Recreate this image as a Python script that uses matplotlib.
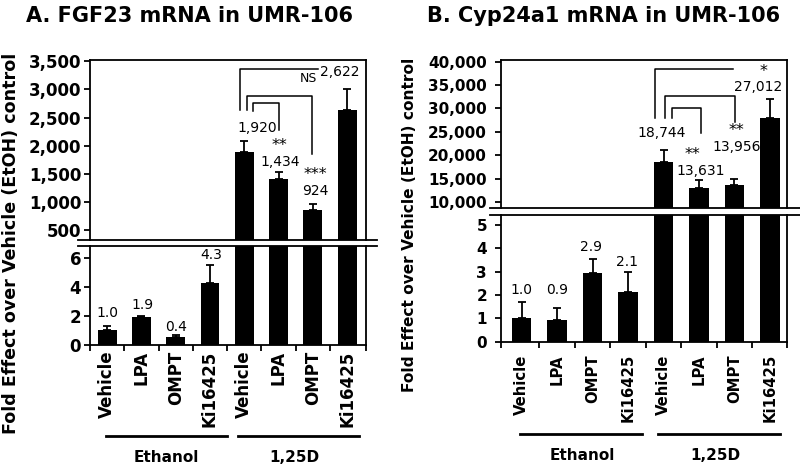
import matplotlib
matplotlib.use("Agg")
import matplotlib.pyplot as plt
from matplotlib.lines import Line2D
from matplotlib.ticker import FuncFormatter, FixedLocator

plt.rcParams['font.family'] = ['DejaVu Sans']

categories = ["Vehicle", "LPA", "OMPT", "Ki16425", "Vehicle", "LPA", "OMPT", "Ki16425"]
groups = ["Ethanol", "1,25D"]

# Panel A: FGF23
fgf23_mean = [1.05, 1.95, 0.55, 4.3, 1895, 1410, 870, 2640]
fgf23_err = [0.28, 0.05, 0.14, 1.22, 190, 120, 90, 365]
fgf23_labels = ["1.0", "1.9", "0.4", "4.3", "1,920", "1,434", "924", "2,622"]
fgf23_sig = ["", "", "", "", "", "**", "***", "NS"]

# Panel B: Cyp24a1
cyp_mean = [1.0, 0.93, 2.96, 2.12, 18620, 13060, 13640, 27900]
cyp_err = [0.71, 0.5, 0.58, 0.85, 2500, 1640, 1280, 4060]
cyp_labels = ["1.0", "0.9", "2.9", "2.1", "18,744", "13,631", "13,956", "27,012"]
cyp_sig = ["", "", "", "", "", "**", "**", "*"]

W, H = 800, 465
fig = plt.figure(figsize=(8, 4.65), dpi=100)


def fx(px):
    return px / W


def fy(py):
    return 1 - py / H


def make_axes(left, right, top, brk_top, brk_bot, bottom):
    axu = fig.add_axes([fx(left), fy(brk_top), fx(right - left), fy(top) - fy(brk_top)])
    axl = fig.add_axes([fx(left), fy(bottom), fx(right - left), fy(brk_bot) - fy(bottom)])
    return axu, axl


def style(ax, xlim, tick_fs, pad, lower):
    for s in ax.spines.values():
        s.set_linewidth(1.3)
    ax.set_xlim(*xlim)
    ax.tick_params(axis='y', direction='out', length=4, width=1.3, labelsize=tick_fs, pad=pad)
    for lab in ax.get_yticklabels():
        lab.set_fontweight('bold')
    if lower:
        ax.spines['top'].set_visible(False)
    else:
        ax.spines['bottom'].set_visible(False)


def draw_panel(axu, axl, mean, err, cat_fs, xlim, cat_pad):
    x = list(range(len(mean)))
    for ax in (axu, axl):
        ax.bar(x, mean, width=0.55, color='black', zorder=2)
        ax.errorbar(x, mean, yerr=[[0] * len(err), err], fmt='none', ecolor='black',
                    elinewidth=1.3, capsize=3.2, capthick=1.3, zorder=3)
    axu.set_xticks([])
    axl.set_xticks(x)
    axl.set_xticklabels(categories, rotation=90, fontsize=cat_fs, fontweight='bold')
    minors = [xlim[0]] + [i + 0.5 for i in range(len(mean) - 1)] + [xlim[1]]
    axl.xaxis.set_minor_locator(FixedLocator(minors))
    axl.tick_params(axis='x', which='major', length=0, pad=cat_pad)
    axl.tick_params(axis='x', which='minor', length=4, width=1.3, direction='out')


fmt = FuncFormatter(lambda v, p: f"{int(v):,}")

# ---------------- Panel A ----------------
xlimA = (-0.5, 7.55)
aAu, aAl = make_axes(90, 366, 60, 240, 246, 345)
draw_panel(aAu, aAl, fgf23_mean, fgf23_err, 12, xlimA, 4)
aAu.set_ylim(330, 3520)
aAu.set_yticks([500, 1000, 1500, 2000, 2500, 3000, 3500])
aAu.yaxis.set_major_formatter(fmt)
aAl.set_ylim(0, 6.83)
aAl.set_yticks([0, 2, 4, 6])
style(aAu, xlimA, 12, 2.4, False)
style(aAl, xlimA, 12, 2.4, True)

# ---------------- Panel B ----------------
xlimB = (-0.58, 7.48)
bBu, bBl = make_axes(501, 787, 60, 208, 215, 341.7)
draw_panel(bBu, bBl, cyp_mean, cyp_err, 10.7, xlimB, 9)
bBu.set_ylim(8720, 40360)
bBu.set_yticks(list(range(10000, 40001, 5000)))
bBu.yaxis.set_major_formatter(fmt)
bBl.set_ylim(0, 5.43)
bBl.set_yticks([0, 1, 2, 3, 4, 5])
style(bBu, xlimB, 11, 6, False)
style(bBl, xlimB, 11, 6, True)

# break lines
for (x0, x1, ys) in [(78, 377, (240, 246)), (490, 800, (208, 215))]:
    for yy in ys:
        fig.add_artist(Line2D([fx(x0), fx(x1)], [fy(yy), fy(yy)], color='black', lw=1.3))

# titles
fig.text(fx(190), fy(16), "A. FGF23 mRNA in UMR-106", ha='center', va='center',
         fontsize=15, fontweight='bold')
fig.text(fx(604), fy(16), "B. Cyp24a1 mRNA in UMR-106", ha='center', va='center',
         fontsize=15, fontweight='bold')

# y labels
fig.text(fx(11), fy(243), "Fold Effect over Vehicle (EtOH) control", rotation=90,
         ha='center', va='center', fontsize=12.6, fontweight='bold')
fig.text(fx(410), fy(225), "Fold Effect over Vehicle (EtOH) control", rotation=90,
         ha='center', va='center', fontsize=11.1, fontweight='bold')

# group lines and labels
def groups_under(ax, yline, ylab, fs, spans, centers):
    tr = matplotlib.transforms.blended_transform_factory(ax.transData, fig.transFigure)
    for (a, b), c, g in zip(spans, centers, groups):
        ax.add_line(Line2D([a, b], [fy(yline), fy(yline)], transform=tr, color='black',
                           lw=2, clip_on=False))
        ax.text(c, fy(ylab), g, transform=tr, ha='center', va='center', fontsize=fs,
                fontweight='bold')


groups_under(aAl, 436, 457, 11, [(-0.03, 3.5), (3.82, 7.35)], [1.72, 5.45])
groups_under(bBl, 434, 455, 11, [(-0.05, 3.38), (3.84, 7.28)], [1.7, 5.45])

# value labels
lab_fs = 10
sig_fs = 11.5


def label_with_sig(ax, xx, yy, text, sig, sig_dx=0.0):
    ax.text(xx, yy, text, ha='center', va='center', fontsize=lab_fs)
    if sig:
        ax.annotate(sig, xy=(xx, yy), xytext=(sig_dx, 6.2), textcoords='offset points',
                    ha='center', va='bottom', fontsize=sig_fs)


a_low_pos = [(0, 2.2), (1.02, 2.76), (2.0, 1.24), (3.03, 6.2)]
for (xx, yy), t in zip(a_low_pos, fgf23_labels[:4]):
    aAl.text(xx, yy, t, ha='center', va='center', fontsize=lab_fs)
a_up_pos = [(4.37, 2312), (5.04, 1720), (6.06, 1200), (6.79, 3305)]
for (xx, yy), t, s in zip(a_up_pos[:3], fgf23_labels[4:7], fgf23_sig[4:7]):
    label_with_sig(aAu, xx, yy, t, s)
aAu.text(a_up_pos[3][0], a_up_pos[3][1], fgf23_labels[7], ha='center', va='center',
         fontsize=lab_fs)
aAu.text(5.86, 3199, fgf23_sig[7], ha='center', va='center', fontsize=9)

b_low_pos = [(0, 2.21), (0.99, 2.21), (1.97, 4.07), (2.96, 3.43)]
for (xx, yy), t in zip(b_low_pos, cyp_labels[:4]):
    bBl.text(xx, yy, t, ha='center', va='center', fontsize=lab_fs)
b_up_pos = [(3.94, 24690), (5.05, 16650), (6.06, 21850), (6.66, 34500)]
sig_dx_b = [0, -6, 0, 4]
for (xx, yy), t, s, dx in zip(b_up_pos, cyp_labels[4:], cyp_sig[4:], sig_dx_b):
    label_with_sig(bBu, xx, yy, t, s, dx)

# significance brackets
def bracket(ax, xs, ys):
    ax.plot(xs, ys, color='black', lw=1.1, clip_on=False, zorder=4)

bracket(aAu, [3.88, 3.88, 6.15], [2631, 3363, 3363])
bracket(aAu, [4.07, 4.07, 5.98, 5.98], [2631, 2879, 2879, 1850])
bracket(aAu, [4.25, 4.25, 5.01, 5.01], [2613, 2755, 2755, 2277])

bracket(bBu, [3.75, 3.75, 5.96], [27960, 38500, 38500])
bracket(bBu, [4.04, 4.04, 6.02, 6.02], [27960, 32700, 32700, 27000])
bracket(bBu, [4.23, 4.23, 5.05, 5.05], [27960, 30040, 30040, 24690])

fig.savefig("out.png", dpi=100, facecolor='white')
